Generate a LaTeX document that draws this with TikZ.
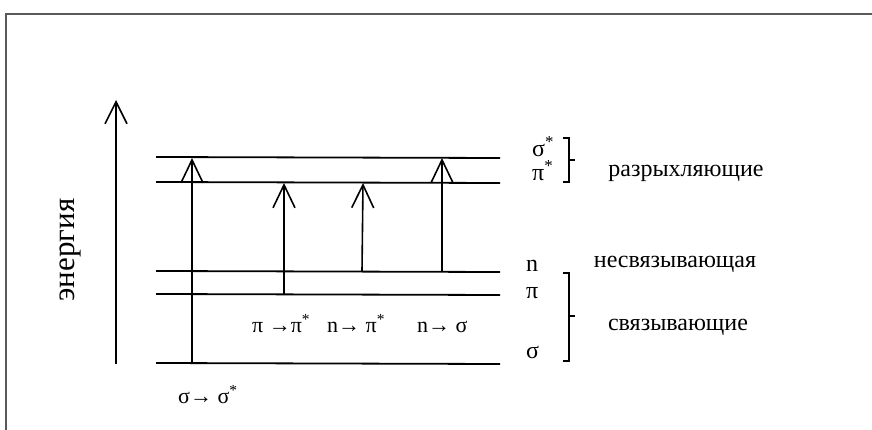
\documentclass[tikz,border=0pt]{standalone}
\usepackage{fontspec}
\setmainfont{Liberation Serif}
\usetikzlibrary{arrows.meta}
\begin{document}
\begin{tikzpicture}[x=1pt,y=-1pt,
  level/.style={line width=1.8pt},
  trans/.style={line width=1.6pt,-{Straight Barb[length=23pt,width=22pt,line width=1.6pt]}},
  lbl/.style={font=\fontsize{22}{26}\selectfont,anchor=base west,inner sep=0pt},
  lvl/.style={font=\fontsize{24}{28}\selectfont,anchor=base west,inner sep=0pt},
  grp/.style={font=\fontsize{24}{28}\selectfont,anchor=base,inner sep=0pt},
  brc/.style={line width=1.8pt,line join=miter},
  frame/.style={draw=black!65}]
\useasboundingbox (0,0) rectangle (872,430);
\draw[frame,line width=2.5pt] (5,14) -- (872,14);
\draw[frame,line width=1.5pt] (6,13) -- (6,430);
% energy axis
\coordinate (ea) at (116,364);
\coordinate (eb) at (116,100);
\draw[line width=1.6pt,-{Straight Barb[length=22pt,width=22pt,line width=1.6pt]}] (ea) -- (eb);
\node[font=\fontsize{31}{36}\selectfont,rotate=90,inner sep=0pt] (en) at (70,250) {энергия};
% levels
\coordinate (ssL) at (156,157); \coordinate (ssR) at (500,158);
\coordinate (psL) at (156,182); \coordinate (psR) at (500,183);
\coordinate (nL) at (156,271); \coordinate (nR) at (500,272);
\coordinate (pL) at (156,294); \coordinate (pR) at (500,295);
\coordinate (sL) at (156,363); \coordinate (sR) at (500,364);
\draw[level] (ssL) -- (ssR);
\draw[level] (psL) -- (psR);
\draw[level] (nL) -- (nR);
\draw[level] (pL) -- (pR);
\draw[level] (sL) -- (sR);
% transitions
\coordinate (t1a) at (192,363); \coordinate (t1b) at (192,158);
\coordinate (t2a) at (284,294); \coordinate (t2b) at (284,183);
\coordinate (t3a) at (362,271); \coordinate (t3b) at (363,183);
\coordinate (t4a) at (442,271); \coordinate (t4b) at (442,158);
\draw[trans] (t1a) -- (t1b);
\draw[trans] (t2a) -- (t2b);
\draw[trans] (t3a) -- (t3b);
\draw[trans] (t4a) -- (t4b);
% level labels
\node[lvl] (lss) at (532,157) {σ\textsuperscript{*}};
\node[lvl] (lps) at (532,181) {π\textsuperscript{*}};
\node[lvl] (ln) at (526,271) {n};
\node[lvl] (lp) at (526,298) {π};
\node[lvl] (ls) at (526,358) {σ};
% braces
\coordinate (b1a) at (563,138); \coordinate (b1m) at (575,160); \coordinate (b1b) at (563,182);
\coordinate (b2a) at (563,273); \coordinate (b2m) at (575,316); \coordinate (b2b) at (563,361);
\draw[brc] (b1a) -- (b1a -| 569,0) -- (b1b -| 569,0) -- (b1b);
\draw[brc] (b1m -| 569,0) -- (b1m);
\draw[brc] (b2a) -- (b2a -| 569,0) -- (b2b -| 569,0) -- (b2b);
\draw[brc] (b2m -| 569,0) -- (b2m);
% group labels
\node[grp] (g1) at (686,177) {разрыхляющие};
\node[grp] (g2) at (675,268) {несвязывающая};
\node[grp] (g3) at (678,330) {связывающие};
% transition labels
\node[lbl] (tl2) at (252,332) {π →π\textsuperscript{*}};
\node[lbl] (tl3) at (327,332) {n→ π\textsuperscript{*}};
\node[lbl] (tl4) at (417,332) {n→ σ};
\node[lbl] (tl1) at (178,403) {σ→ σ\textsuperscript{*}};
\end{tikzpicture}
\end{document}
